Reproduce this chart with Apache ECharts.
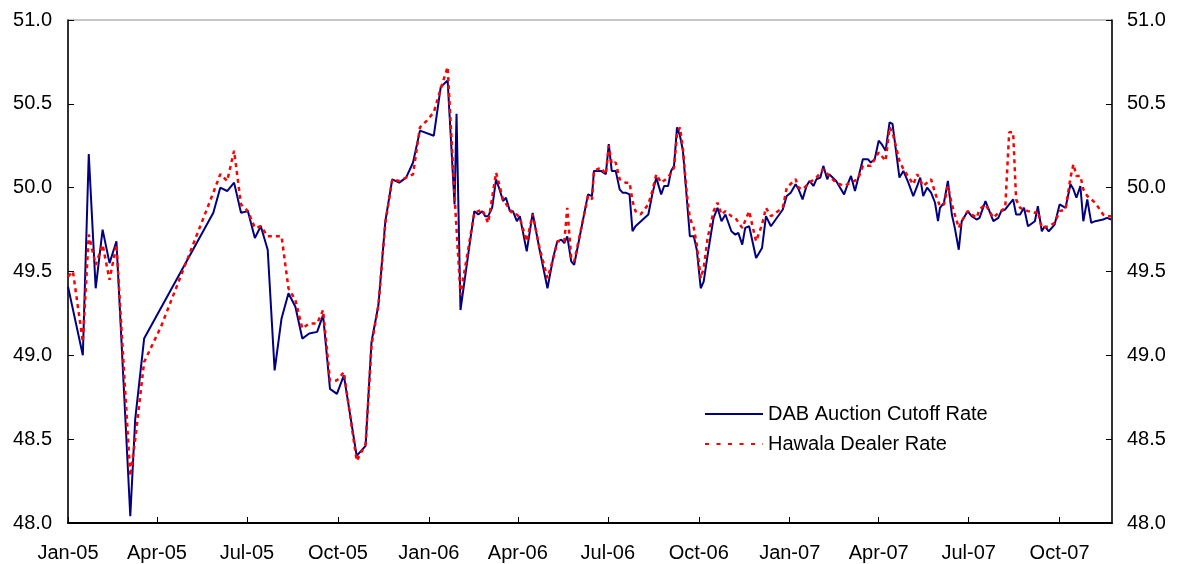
<!DOCTYPE html>
<html>
<head>
<meta charset="utf-8">
<script src="https://cdn.jsdelivr.net/npm/echarts@6/dist/echarts.min.js"></script>
<style>
  html, body { margin: 0; padding: 0; background: #fff; }
  #chart { width: 1177px; height: 564px; }
</style>
</head>
<body>
<div id="chart"></div>
<script>
// weekly observations, null = no quote that week
var dates = [
  '2005-01-01','2005-01-06','2005-01-16','2005-01-22','2005-01-29','2005-02-05','2005-02-12','2005-02-19',
  '2005-03-05','2005-03-10','2005-03-19','2005-04-05','2005-05-28','2005-06-04','2005-06-11','2005-06-18',
  '2005-06-25','2005-07-02','2005-07-09','2005-07-15','2005-07-22','2005-07-29','2005-08-05','2005-08-12',
  '2005-08-19','2005-08-26','2005-09-02','2005-09-10','2005-09-16','2005-09-23','2005-09-30','2005-10-07',
  '2005-10-20','2005-10-29','2005-11-04','2005-11-11','2005-11-18','2005-11-25','2005-12-02','2005-12-09',
  '2005-12-16','2005-12-23','2005-12-30',
  '2006-01-06','2006-01-13','2006-01-20','2006-01-27','2006-01-29','2006-02-02','2006-02-10','2006-02-16',
  '2006-02-20','2006-02-24','2006-02-27','2006-03-02','2006-03-06','2006-03-10','2006-03-14','2006-03-17',
  '2006-03-20','2006-03-24','2006-03-27','2006-03-31','2006-04-03','2006-04-10','2006-04-16','2006-04-23',
  '2006-05-01','2006-05-07','2006-05-11','2006-05-15','2006-05-18','2006-05-21','2006-05-25','2006-05-28',
  '2006-06-11','2006-06-15','2006-06-17','2006-06-24','2006-06-29','2006-07-02','2006-07-05','2006-07-09',
  '2006-07-13','2006-07-16','2006-07-19','2006-07-23','2006-07-26','2006-07-29','2006-08-03','2006-08-11',
  '2006-08-15','2006-08-19','2006-08-24','2006-08-27','2006-08-31','2006-09-03','2006-09-06','2006-09-09',
  '2006-09-12','2006-09-15','2006-09-19','2006-09-22','2006-09-26','2006-09-29','2006-10-03','2006-10-06',
  '2006-10-10','2006-10-16','2006-10-20','2006-10-24','2006-10-28','2006-11-03','2006-11-07','2006-11-10',
  '2006-11-14','2006-11-17','2006-11-21','2006-11-24','2006-11-28','2006-12-04','2006-12-08','2006-12-13',
  '2006-12-15','2006-12-25','2006-12-29',
  '2007-01-02','2007-01-07','2007-01-10','2007-01-14','2007-01-18','2007-01-21','2007-01-25','2007-01-28',
  '2007-02-01','2007-02-04','2007-02-08','2007-02-10','2007-02-17','2007-02-21','2007-02-25','2007-02-28',
  '2007-03-04','2007-03-08','2007-03-11','2007-03-16','2007-03-21','2007-03-24','2007-03-28','2007-04-01',
  '2007-04-04','2007-04-08','2007-04-12','2007-04-15','2007-04-22','2007-04-26','2007-05-01','2007-05-06',
  '2007-05-10','2007-05-13','2007-05-16','2007-05-20','2007-05-24','2007-05-28','2007-05-31','2007-06-02',
  '2007-06-06','2007-06-10','2007-06-14','2007-06-17','2007-06-21','2007-06-24','2007-06-30','2007-07-04',
  '2007-07-09','2007-07-12','2007-07-18','2007-07-26','2007-07-31','2007-08-03','2007-08-07','2007-08-11',
  '2007-08-15','2007-08-18','2007-08-22','2007-08-26','2007-08-30','2007-09-06','2007-09-09','2007-09-13',
  '2007-09-16','2007-09-20','2007-09-26','2007-10-01','2007-10-07','2007-10-12','2007-10-15','2007-10-18',
  '2007-10-22','2007-10-25','2007-10-29','2007-11-02','2007-11-06','2007-11-14','2007-11-18','2007-11-22'
];

var dabRate = [
  49.41, null, 49.00, 50.20, 49.40, 49.75, 49.55, 49.68,
  48.04, 48.62, 49.10, null, 49.85, 50.00, 49.98, 50.03,
  49.85, 49.86, 49.70, 49.77, 49.63, 48.91, 49.22, 49.37,
  49.29, 49.10, 49.13, 49.14, 49.24, 48.80, 48.77, 48.88,
  48.40, 48.46, 49.08, 49.30, 49.80, 50.05, 50.03, 50.06,
  50.15, 50.34, null,
  50.31, 50.60, 50.64, 49.90, 50.44, 49.27, 49.61, 49.86,
  49.84, 49.86, 49.83, 49.83, 49.88, 50.05, 49.98, 49.92,
  49.94, 49.86, 49.86, 49.80, 49.83, 49.62, 49.85, 49.63,
  49.40, 49.59, 49.68, 49.69, 49.67, 49.71, 49.56, 49.54,
  49.96, 49.95, 50.10, 50.10, 50.08, 50.26, 50.10, 50.10,
  49.99, 49.97, 49.97, 49.96, 49.74, 49.77, null, 49.84,
  49.96, 50.06, 49.96, 50.01, 50.01, 50.10, 50.13, 50.36,
  50.31, 50.22, null, 49.71, 49.71, 49.63, 49.40, 49.44,
  49.60, 49.82, 49.88, 49.80, 49.84, 49.74, 49.72, 49.73,
  49.66, 49.76, 49.77, null, 49.58, 49.64, 49.83, 49.77,
  49.76, 49.87, 49.95,
  49.97, 50.02, 49.99, 49.93, 50.01, 50.04, 50.01, 50.05,
  50.06, 50.13, 50.05, 50.08, 50.04, 50.00, 49.96, 50.01,
  50.07, 49.98, 50.05, 50.17, 50.17, 50.15, 50.17, 50.28,
  50.26, 50.22, 50.39, 50.38, 50.06, 50.10, 50.03, 49.95,
  50.01, 50.06, 49.95, 50.00, 49.97, 49.91, 49.80, 49.88,
  49.91, 50.04, 49.84, 49.76, 49.63, 49.80, 49.86, 49.83,
  49.81, 49.82, 49.92, 49.80, 49.82, 49.86, 49.87, 49.90,
  49.93, 49.84, 49.84, 49.88, 49.77, 49.80, 49.89, 49.74,
  49.77, 49.74, 49.78, 49.90, 49.88, 50.02, 49.99, 49.94,
  50.01, 49.80, 49.93, 49.79, 49.80, 49.81, 49.82, 49.81
];

var hawalaRate = [
  49.47, 49.50, 49.08, 49.72, 49.54, 49.66, 49.45, 49.66,
  48.28, 48.50, 48.96, 49.17, 49.97, 50.08, 50.04, 50.22,
  49.90, 49.86, 49.76, 49.77, 49.71, null, 49.71, 49.40,
  49.33, 49.16, 49.19, 49.19, 49.27, 48.85, 48.85, 48.90,
  48.37, 48.47, 49.06, 49.30, 49.79, 50.05, 50.04, 50.06,
  50.08, 50.36, 50.40,
  50.45, 50.59, 50.72, 49.95, null, 49.36, 49.64, 49.85,
  null, 49.87, 49.83, 49.79, null, 50.09, 50.00, 49.93,
  null, 49.87, 49.84, 49.84, 49.82, 49.68, 49.84, 49.64,
  49.46, 49.58, 49.68, 49.68, 49.68, 49.88, 49.58, 49.56,
  49.95, 49.93, 50.10, 50.12, 50.08, 50.25, 50.14, 50.15,
  50.05, 50.04, 50.03, 50.03, 49.92, 49.86, 49.84, 49.90,
  49.98, 50.08, 50.03, null, 50.06, null, 50.12, 50.32,
  50.36, 50.23, 49.96, 49.82, 49.76, 49.66, 49.46, 49.52,
  49.70, 49.86, 49.91, 49.84, 49.86, 49.83, 49.82, null,
  49.76, null, 49.86, 49.78, 49.68, 49.78, 49.88, 49.83,
  49.82, 49.88, 50.00,
  null, 50.05, 50.00, 49.99, null, 50.03, null, 50.06,
  null, 50.11, null, 50.07, 50.03, null, 50.01, null,
  50.03, null, 50.05, 50.13, null, 50.13, null, 50.21,
  null, 50.16, 50.36, 50.33, 50.16, 50.11, null, 50.02,
  50.08, null, 50.01, null, 50.05, 49.97, 49.92, 49.89,
  49.90, 50.01, 49.90, null, 49.76, 49.80, 49.86, 49.84,
  49.82, 49.87, 49.90, 49.82, 49.85, null, 49.88, 50.33,
  50.33, 49.93, 49.88, null, 49.86, 49.85, 49.86, 49.76,
  null, 49.77, 49.79, 49.86, 49.87, 50.06, 50.14, 50.07,
  50.07, 49.99, 49.95, null, 49.91, 49.84, 49.83, 49.83
];

var tickDates = ['2005-01-01','2005-04-01','2005-07-01','2005-10-01','2006-01-01','2006-04-01',
                 '2006-07-01','2006-10-01','2007-01-01','2007-04-01','2007-07-01','2007-10-01'];
var tickLabels = ['Jan-05','Apr-05','Jul-05','Oct-05','Jan-06','Apr-06',
                  'Jul-06','Oct-06','Jan-07','Apr-07','Jul-07','Oct-07'];
var axisStart = '2005-01-01';
var axisEnd = '2007-11-23';

// days since 1 Jan 2005, so the x axis is a plain value axis
var DAY = 86400000;
var BASE = Date.UTC(2005, 0, 1);
var toDay = function(s) {
    var p = s.split('-');
    return Math.round((Date.UTC(+p[0], +p[1] - 1, +p[2]) - BASE) / DAY);
};

var pairs = function(vals) {
    var out = [];
    for (var i = 0; i < dates.length; i++) {
        if (vals[i] != null) out.push([toDay(dates[i]), vals[i]]);
    }
    return out;
};

var tickDays = tickDates.map(toDay);
var FONT = '"Liberation Sans", Arial, sans-serif';

var yAxisBase = function(pos, margin) {
    return {
        type: 'value',
        position: pos,
        min: 48,
        max: 51,
        interval: 0.5,
        axisLine: { show: true, lineStyle: { color: '#000', width: 1.5 } },
        axisTick: { show: true, inside: true, length: 6, lineStyle: { color: '#000', width: 1 } },
        splitLine: { show: false },
        axisLabel: {
            margin: margin,
            color: '#000',
            fontSize: 20,
            fontFamily: FONT,
            formatter: function(v) { return v.toFixed(1); }
        }
    };
};

var chart = echarts.init(document.getElementById('chart'));

var option = {
    animation: false,
    backgroundColor: '#fff',
    grid: {
        left: 68, right: 65, top: 20, bottom: 41,
        show: true, borderColor: '#8c8c8c', borderWidth: 1,
        containLabel: false
    },
    legend: {
        orient: 'vertical',
        left: 699,
        top: 399,
        itemWidth: 58,
        itemHeight: 14,
        itemGap: 10,
        itemStyle: { opacity: 0 },
        textStyle: { color: '#000', fontSize: 20, fontFamily: FONT },
        data: [
            { name: 'DAB Auction Cutoff Rate' },
            { name: 'Hawala Dealer Rate', lineStyle: { type: [4, 7.5] } }
        ]
    },
    xAxis: {
        type: 'value',
        min: toDay(axisStart),
        max: toDay(axisEnd),
        axisLine: { show: true, lineStyle: { color: '#000', width: 2 } },
        axisTick: { show: true, inside: true, length: 6, customValues: tickDays, lineStyle: { color: '#000', width: 1 } },
        splitLine: { show: false },
        axisLabel: {
            customValues: tickDays,
            margin: 20,
            color: '#000',
            fontSize: 20,
            fontFamily: FONT,
            formatter: function(v) {
                var i = tickDays.indexOf(v);
                return i >= 0 ? tickLabels[i] : '';
            }
        }
    },
    yAxis: [yAxisBase('left', 16), yAxisBase('right', 15)],
    series: [
        {
            name: 'DAB Auction Cutoff Rate',
            type: 'line',
            symbol: 'none',
            connectNulls: true,
            data: pairs(dabRate),
            lineStyle: { color: '#000080', width: 2 },
            itemStyle: { color: '#000080' }
        },
        {
            name: 'Hawala Dealer Rate',
            type: 'line',
            symbol: 'none',
            connectNulls: true,
            data: pairs(hawalaRate),
            lineStyle: { color: '#ff0000', width: 2.5, type: [4, 4] },
            itemStyle: { color: '#ff0000' }
        }
    ]
};

chart.setOption(option);
</script>
</body>
</html>
